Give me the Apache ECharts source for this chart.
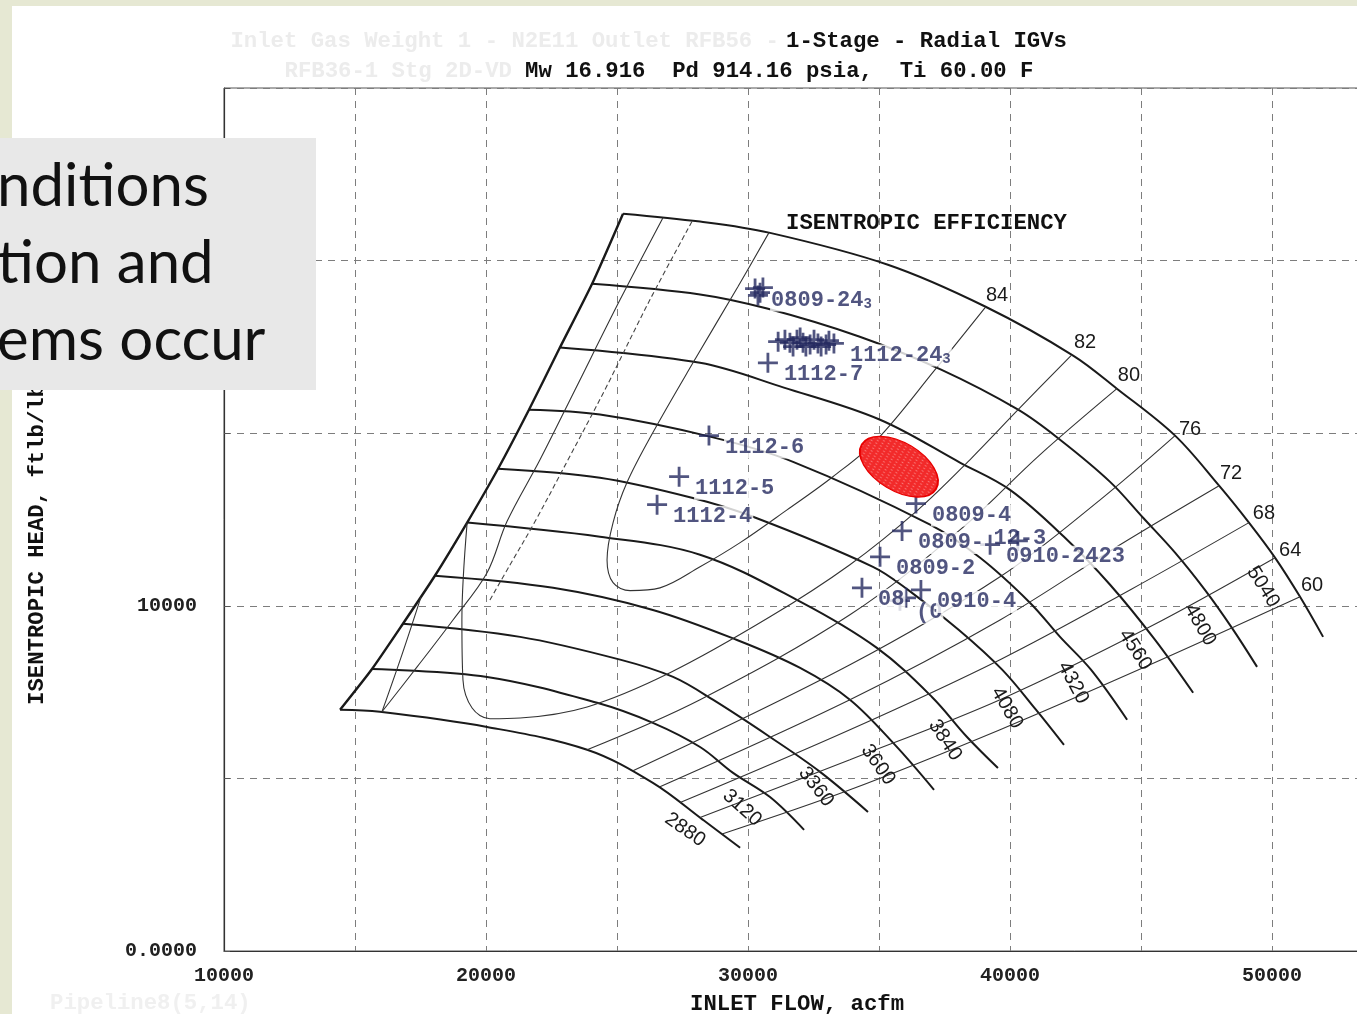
<!DOCTYPE html>
<html>
<head>
<meta charset="utf-8">
<script src="https://cdn.jsdelivr.net/npm/echarts@6/dist/echarts.min.js"></script>
<style>
html, body { margin: 0; padding: 0; background: #fff; }
#map { width: 1357px; height: 1014px; }
</style>
</head>
<body>
<div id="map"></div>
<script>
// Compressor performance map: inlet flow (acfm) vs isentropic head (ft-lb/lb)

// axis ticks
const flowTicks = [10000, 20000, 30000, 40000, 50000];
const headTicks = [0, 10000, 20000];
const headTickText = ['0.0000', '10000', '20000'];

// surge limit (joins the low-flow end of every speed line)
const surgeLine = [[14430,6990],[15650,8170],[16830,9480],[18050,10870],[19280,12410],[20460,13970],[21640,15680],[22820,17480],[24050,19330],[25230,21360]];

// constant-speed lines (rpm)
const speedNames = ['2880', '3120', '3360', '3600', '3840', '4080', '4320', '4560', '4800', '5040'];
const speed2880 = [[14430,6990],[15950,6930],[20040,6490],[23860,5830],[26370,4870],[28280,3800],[29700,2990]];
const speed3120 = [[15650,8170],[20040,7940],[24240,7190],[26370,6610],[28170,5910],[29430,5160],[30840,4460],[32140,3510]];
const speed3360 = [[16830,9480],[21300,9100],[25120,8440],[27140,7940],[28660,7280],[30840,6200],[32750,5190],[34580,4030]];
const speed3600 = [[18050,10870],[22560,10520],[26370,9880],[29580,9010],[31990,8200],[33890,7280],[35610,5970],[37100,4670]];
const speed3840 = [[19280,12410],[24350,12000],[28170,11480],[31990,10120],[34920,8780],[37020,7360],[38360,6200],[39540,5300]];
const speed4080 = [[20460,13970],[24350,13710],[27860,13130],[30190,12580],[34770,11130],[36110,10460],[38050,9300],[39700,8150],[40990,6990],[42060,5970]];
const speed4320 = [[21640,15680],[24350,15540],[28550,14900],[31720,14170],[36950,12350],[38860,11390],[40760,10090],[41910,9100],[43090,8150],[44470,6700]];
const speed4560 = [[22820,17480],[28170,17040],[31370,16320],[35040,15390],[38090,14150],[40000,13360],[42060,12000],[43820,10610],[45530,9020],[46990,7480]];
const speed4800 = [[24050,19330],[28170,19020],[30730,18610],[34240,17800],[37370,16840],[40310,15680],[41910,14810],[43820,13590],[45080,12550],[46300,11540],[47440,10460],[48470,9360],[49430,8230]];
const speed5040 = [[25230,21360],[28170,21130],[30800,20810],[35340,19880],[39050,18670],[42410,17250],[44080,16290],[46300,14930],[47980,13480],[49120,12410],[50120,11390],[51070,10260],[51950,9100]];
const speedLines = [speed2880, speed3120, speed3360, speed3600, speed3840, speed4080, speed4320, speed4560, speed4800, speed5040];

// isentropic efficiency contours (%)
const effNames = ['84', '82', '80', '76', '72', '68', '64', '60'];
const eff84 = [[30800,20810],[29620,19250],[27900,17040],[26370,15020],[25380,13570],[24850,12410],[24620,11330],[24850,10670],[25500,10440],[26640,10520],[28170,11130],[29700,11830],[31490,12780],[33240,13740],[34920,14810],[37140,16840],[39050,18640]];
const eff82 = [[19280,12410],[19080,9590],[19120,7860],[19470,7040],[20150,6730],[21300,6750],[23860,7070],[27020,8060],[30840,9680],[33890,11190],[36490,12780],[38470,14230],[40310,15680],[42330,17250]];
const eff80 = [[23860,5830],[28170,7280],[33890,9740],[38090,12200],[41150,14380],[44080,16290]];
const eff76 = [[25610,5220],[33890,8290],[39620,10840],[43440,13070],[46300,14930]];
const eff72 = [[26640,4760],[33890,7280],[39620,9590],[44200,11770],[47980,13480]];
const eff68 = [[27410,4300],[33890,6410],[39620,8440],[44580,10460],[49120,12410]];
const eff64 = [[28170,3870],[33890,5540],[39620,7280],[45340,9390],[50120,11390]];
const eff60 = [[29010,3390],[33890,4670],[39620,6410],[45340,8290],[51070,10260]];
const effLines = [eff84, eff82, eff80, eff76, eff72, eff68, eff64, eff60];

// contours on the surge side, and the surge control line
const effSurgeSide = [[26760,21250],[25120,18870],[23400,16260],[22060,14230],[20800,12440],[20040,10960],[18740,9590],[17370,8230],[16030,6930]];
const effSurgeCorner = [[16030,6930],[16790,8580],[17520,10260]];
const surgeControl = [[27860,21130],[26260,18870],[24540,16260],[23130,14230],[21870,12440],[20920,11190],[20150,10170]];

// measured operating points
const pointFlow = [30460, 30380, 30570, 30270,
  31150, 31410, 31600, 31720, 31870, 31990, 32100, 32210, 32370, 32520, 32670, 32790, 32980, 33090, 33280,
  30760, 28510, 27370, 26530, 36410, 35880, 35040, 34350, 35800, 36030, 36600, 39240, 40300];
const pointHead = [19070, 18990, 19220, 19190,
  17650, 17710, 17620, 17510, 17710, 17770, 17620, 17510, 17570, 17710, 17600, 17510, 17570, 17680, 17600,
  17040, 14930, 13740, 12930, 12960, 12170, 11420, 10520, 10150, 10230, 10460, 11770, 11880];
const pointTag  = ['', '', '', '0809-24|3',
  '', '', '', '', '', '', '', '', '', '', '', '', '', '', '1112-24|3',
  '1112-7', '1112-6', '1112-5', '1112-4', '0809-4', '0809-', '0809-2', '08', '(0', '', '0910-4', '0910-2423', '12-3'];

// highlighted region
const hotSpot = [35760, 14030];

const mono = '"Liberation Mono", "DejaVu Sans Mono", monospace';
const ink = '#1a1a1a';
const navy = '#252a60';

// caption placement (pixels) and rotation (deg)
const speedLabelShift = [[-55,-18],[-62,-22],[-52,-25],[-56,-25],[-53,-28],[-57,-37],[-54,-37],[-58,-43],[-57,-42],[-60,-50]];
const speedLabelTurn = [-35, -42, -52, -55, -57, -60, -62, -57, -60, -58];
const effLabelShift = [[12,-12],[14,-13],[12,-13],[15,-6],[12,-12],[15,-9],[15,-7],[12,-11]];

function curve(data, width, color, dash, smooth) {
  return {
    type: 'line', data: data, smooth: smooth == null ? 0.35 : smooth, symbol: 'none', silent: true, z: 2,
    lineStyle: { color: color, width: width, type: dash || 'solid' }
  };
}

function tagText(t) {
  if (!t) return '';
  const parts = t.split('|');
  return parts.length > 1 ? '{a|' + parts[0] + '}{s|' + parts[1] + '}' : '{a|' + t + '}';
}

const series = [];
series.push(curve(surgeLine, 2.4, ink, null, 0.2));
speedLines.forEach(d => series.push(curve(d, 2, ink)));
effLines.forEach(d => series.push(curve(d, 1.1, '#333')));
series.push(curve(effSurgeSide, 1.1, '#333'));
series.push(curve(effSurgeCorner, 1.1, '#333'));
series.push(curve(surgeControl, 1.1, '#444', [5, 3]));

const crossPath = 'path://M-1.4,-10H1.4V-1.4H10V1.4H1.4V10H-1.4V1.4H-10V-1.4H-1.4Z';
series.push({
  type: 'scatter', z: 5, silent: true,
  symbol: crossPath, symbolSize: 20,
  itemStyle: { color: navy },
  data: pointFlow.map((x, i) => {
    const item = { value: [x, pointHead[i]] };
    if (!pointTag[i]) item.label = { show: false };
    if (pointTag[i] === '12-3') item.label = { position: 'inside', offset: [2, -2], backgroundColor: 'transparent' };
    return item;
  }),
  label: {
    show: true, position: 'right', distance: 5, offset: [0, 12],
    backgroundColor: '#fff', padding: [0, 1],
    formatter: p => tagText(pointTag[p.dataIndex]),
    rich: {
      a: { fontFamily: mono, fontSize: 22, fontWeight: 'bold', color: navy, lineHeight: 22 },
      s: { fontFamily: mono, fontSize: 14, fontWeight: 'bold', color: navy, padding: [8, 0, 0, 0] }
    }
  }
});

const option = {
  animation: false,
  backgroundColor: '#ffffff',
  grid: {
    left: 224, top: 88, width: 1179, height: 863,
    show: true, borderColor: '#555', borderWidth: 1,
    containLabel: false, outerBoundsMode: 'none'
  },
  xAxis: {
    type: 'value', min: 10000, max: 55000, interval: 5000,
    axisLine: { show: true, onZero: false, lineStyle: { color: '#333', width: 1.2 } },
    axisTick: { show: false },
    axisLabel: {
      margin: 15, fontFamily: mono, fontWeight: 'bold', fontSize: 20, color: '#222',
      formatter: v => flowTicks.indexOf(v) >= 0 ? String(v) : ''
    },
    splitLine: { show: true, lineStyle: { color: '#7d7d7d', width: 1, type: [7, 6] } }
  },
  yAxis: {
    type: 'value', min: 0, max: 25000, interval: 5000,
    axisLine: { show: true, lineStyle: { color: '#333', width: 1.2 } },
    axisTick: { show: true, inside: true, length: 6, lineStyle: { color: '#555' } },
    axisLabel: {
      margin: 27, fontFamily: mono, fontWeight: 'bold', fontSize: 20, color: '#222',
      formatter: v => { const i = headTicks.indexOf(v); return i >= 0 ? headTickText[i] : ''; }
    },
    splitLine: { show: true, lineStyle: { color: '#7d7d7d', width: 1, type: [7, 6] } }
  },
  series: series
};

const chart = echarts.init(document.getElementById('map'), null, { renderer: 'canvas' });
chart.setOption(option);

const toPx = p => chart.convertToPixel({ gridIndex: 0 }, p);
const g = [];
function txt(text, x, y, font, fill, align, rot, z) {
  g.push({
    type: 'text', x: x, y: y, rotation: rot || 0, silent: true, z: z || 40,
    style: { text: text, font: font, fill: fill, align: align || 'left', verticalAlign: 'middle' }
  });
}

// speed captions along each line near its choke end
const capFont = '20px "Liberation Sans", Arial, sans-serif';
speedLines.forEach((d, i) => {
  const p = toPx(d[d.length - 1]);
  txt(speedNames[i], p[0] + speedLabelShift[i][0], p[1] + speedLabelShift[i][1],
      capFont, ink, 'center', speedLabelTurn[i] * Math.PI / 180);
});
// efficiency captions where each contour meets the top speed line
effLines.forEach((d, i) => {
  const p = toPx(d[d.length - 1]);
  txt(effNames[i], p[0] + effLabelShift[i][0], p[1] + effLabelShift[i][1], capFont, ink, 'center');
});

// highlighted region: red fill with a faint light mesh
const tile = document.createElement('canvas');
tile.width = 3; tile.height = 3;
const tctx = tile.getContext('2d');
tctx.fillStyle = '#f22a2a'; tctx.fillRect(0, 0, 3, 3);
tctx.fillStyle = 'rgba(255,190,190,0.55)'; tctx.fillRect(0, 0, 1, 1);
const hs = toPx(hotSpot);
g.push({
  type: 'circle', x: hs[0], y: hs[1], rotation: -0.54, scaleX: 1.8, silent: true, z: 60,
  shape: { cx: 0, cy: 0, r: 24 },
  style: { fill: { image: tile, repeat: 'repeat' }, stroke: '#e80000', lineWidth: 1.5, strokeNoScale: true }
});

// headings and axis names
const head = 'bold 22.3px ' + mono;
txt('Inlet Gas Weight 1 - N2E11 Outlet RFB56 -', 779, 41, head, '#ececec', 'right');
txt('1-Stage - Radial IGVs', 786, 41, head, '#111');
txt('RFB36-1 Stg 2D-VD', 512, 71, head, '#ececec', 'right');
txt('Mw 16.916  Pd 914.16 psia,  Ti 60.00 F', 525, 71, head, '#111');
txt('ISENTROPIC EFFICIENCY', 786, 223, head, '#111');
txt('INLET FLOW, acfm', 690, 1004, head, '#111');
txt('ISENTROPIC HEAD, ftlb/lbm', 37, 705, head, '#111', 'left', Math.PI / 2);
txt('Pipeline8(5,14)', 50, 1003, head, '#f0f0f0');

// page edges
g.push({ type: 'rect', silent: true, z: 100, shape: { x: 0, y: 0, width: 12, height: 1014 }, style: { fill: '#e6e8d3' } });
g.push({ type: 'rect', silent: true, z: 100, shape: { x: 0, y: 0, width: 1357, height: 6 }, style: { fill: '#e6e8d3' } });

// call-out panel
g.push({ type: 'rect', silent: true, z: 110, shape: { x: 0, y: 138, width: 316, height: 252 }, style: { fill: '#e8e8e8' } });
const panelFont = '60px Lato, "Open Sans", sans-serif';
txt('nditions', -3, 187, panelFont, '#111', 'left', 0, 120);
txt('tion and', -3, 264, panelFont, '#111', 'left', 0, 120);
txt('ems occur', -3, 341, panelFont, '#111', 'left', 0, 120);

chart.setOption({ graphic: g });
</script>
</body>
</html>
